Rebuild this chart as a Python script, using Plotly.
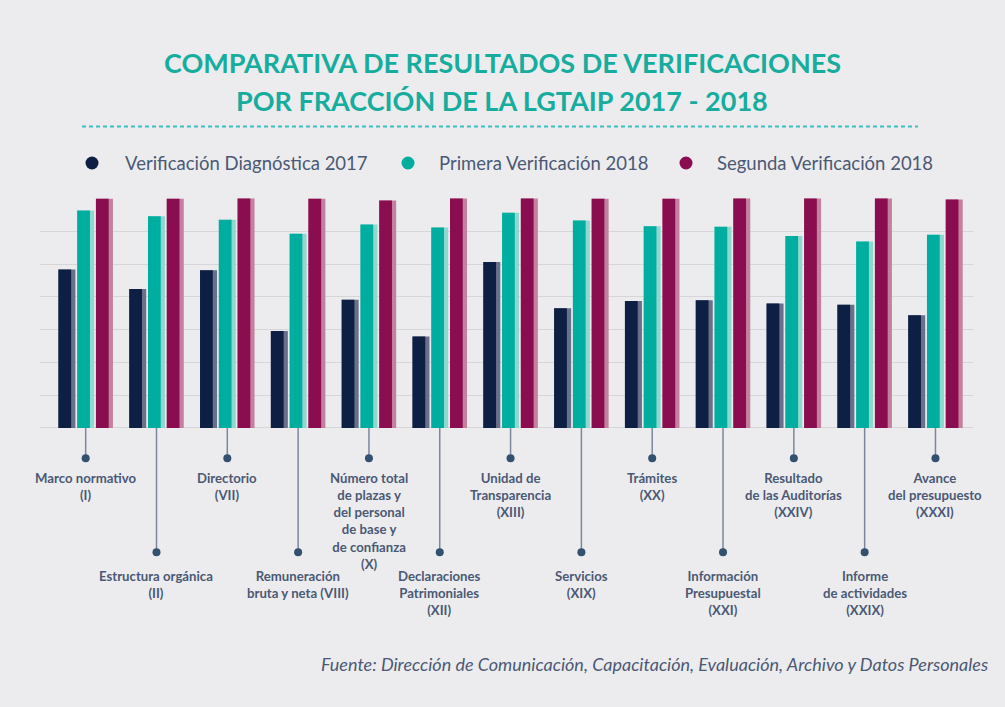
import plotly.graph_objects as go

# ---------------- data ----------------
categories = ["I", "II", "VII", "VIII", "X", "XII", "XIII", "XIX", "XX", "XXI", "XXIV", "XXIX", "XXXI"]
cat_labels = [
    "Marco normativo<br>(I)",
    "Estructura orgánica<br>(II)",
    "Directorio<br>(VII)",
    "Remuneración<br>bruta y neta (VIII)",
    "Número total<br>de plazas y<br>del personal<br>de base y<br>de confianza<br>(X)",
    "Declaraciones<br>Patrimoniales<br>(XII)",
    "Unidad de<br>Transparencia<br>(XIII)",
    "Servicios<br>(XIX)",
    "Trámites<br>(XX)",
    "Información<br>Presupuestal<br>(XXI)",
    "Resultado<br>de las Auditorías<br>(XXIV)",
    "Informe<br>de actividades<br>(XXIX)",
    "Avance<br>del presupuesto<br>(XXXI)",
]
series_names = ["Verificación Diagnóstica 2017", "Primera Verificación 2018", "Segunda Verificación 2018"]
diag_2017 = [69.0, 60.5, 68.7, 42.2, 55.9, 39.8, 72.3, 52.2, 55.3, 55.7, 54.2, 53.7, 49.1]
primera_2018 = [94.8, 92.3, 90.7, 84.6, 88.7, 87.4, 93.8, 90.4, 87.9, 87.7, 83.6, 81.3, 84.2]
segunda_2018 = [99.9, 99.9, 100.0, 99.9, 99.1, 100.0, 100.0, 99.9, 99.9, 100.0, 100.0, 100.0, 99.6]
series_values = [diag_2017, primera_2018, segunda_2018]

# ---------------- styling / layout ----------------
colors = ["#0d1f42", "#00ae9f", "#8a0d4f"]
light_colors = ["#6a6f8c", "#8fd8d0", "#c4809f"]
offsets = [-0.385, -0.12, 0.145]
full_w, main_w = 0.24, 0.18
bg = "#ececee"
text_col = "#4b5975"

W, H = 1005, 707
L, R = 40, 973          # plot area px (horizontal)
T, B = 186.5, 687       # plot area px (vertical)
Y0 = 427.7              # baseline px
YTOP = 105.0
scale = (Y0 - T) / YTOP
YMIN = -(B - Y0) / scale


def px2py(py):
    """pixel y -> data y"""
    return (Y0 - py) / scale


def pxx(px):
    return (px - L) / (R - L)


def pyy(py):
    return (B - py) / (B - T)


fig = go.Figure()

# bars: light stripe under, main colour over
for vals, c, lc, off, nm in zip(series_values, colors, light_colors, offsets, series_names):
    fig.add_trace(go.Bar(x=categories, y=vals, marker=dict(color=lc, line=dict(width=0)),
                         offset=off, width=full_w, showlegend=False, hoverinfo="skip"))
    fig.add_trace(go.Bar(x=categories, y=vals, name=nm, marker=dict(color=c, line=dict(width=0)),
                         offset=off, width=main_w, showlegend=False))

# stems + dots
short_end, long_end = px2py(458), px2py(552)
stem_x, stem_y, dot_x, dot_y = [], [], [], []
for i, c in enumerate(categories):
    end = short_end if i % 2 == 0 else long_end
    stem_x += [c, c, None]
    stem_y += [0, end, None]
    dot_x.append(c)
    dot_y.append(end)
fig.add_trace(go.Scatter(x=stem_x, y=stem_y, mode="lines", line=dict(color="#7c879c", width=1.5),
                         showlegend=False, hoverinfo="skip"))
fig.add_trace(go.Scatter(x=dot_x, y=dot_y, mode="markers", marker=dict(color="#33506f", size=8),
                         showlegend=False, hoverinfo="skip"))

annotations = []
for i, (c, lab) in enumerate(zip(categories, cat_labels)):
    top = 468 if i % 2 == 0 else 566
    annotations.append(dict(x=c, y=px2py(top), xref="x", yref="y", text=lab, showarrow=False,
                            yanchor="top", xanchor="center", align="center",
                            font=dict(family="Lato", size=13.2, color=text_col, weight="bold")))

# title
title_lines = ["COMPARATIVA DE RESULTADOS DE VERIFICACIONES", "POR FRACCIÓN DE LA LGTAIP 2017 - 2018"]
for line, yc in zip(title_lines, [62, 100]):
    annotations.append(dict(x=pxx(502), y=pyy(yc), xref="paper", yref="paper", text=line,
                            showarrow=False, xanchor="center", yanchor="middle",
                            font=dict(family="Lato", size=27, color="#17ad9e", weight="bold")))

# legend (manual)
legend_dot_x = [92, 408, 686]
legend_text_x = [123, 437, 715]
legend_y = 162.5
for nm, c, dx, tx in zip(series_names, colors, legend_dot_x, legend_text_x):
    annotations.append(dict(x=pxx(tx), y=pyy(legend_y), xref="paper", yref="paper", text=nm,
                            showarrow=False, xanchor="left", yanchor="middle",
                            font=dict(family="Lato", size=18.5, color=text_col)))

# footer
annotations.append(dict(x=pxx(990), y=pyy(664), xref="paper", yref="paper",
                        text="Fuente: Dirección de Comunicación, Capacitación, Evaluación, Archivo y Datos Personales",
                        showarrow=False, xanchor="right", yanchor="middle",
                        font=dict(family="Lato", size=18, color=text_col, style="italic")))

shapes = []
for c, dx in zip(colors, legend_dot_x):
    shapes.append(dict(type="circle", xref="paper", yref="paper", xsizemode="pixel", ysizemode="pixel",
                       xanchor=pxx(dx), yanchor=pyy(legend_y), x0=-6.5, x1=6.5, y0=-6.5, y1=6.5,
                       fillcolor=c, line=dict(width=0)))
# dotted separator
shapes.append(dict(type="line", xref="paper", yref="paper", x0=pxx(82), x1=pxx(918), y0=pyy(126), y1=pyy(126),
                   line=dict(color="#3bbfbf", width=2, dash="4px,3px")))

grid_vals = [k * 100 / 7 for k in range(0, 7)]

fig.update_layout(
    width=W, height=H, autosize=False,
    margin=dict(l=L, r=W - R, t=T, b=H - B, pad=0),
    paper_bgcolor=bg, plot_bgcolor=bg,
    barmode="overlay",
    xaxis=dict(range=[-0.645, 12.53], showticklabels=False, showgrid=False, zeroline=False,
               showline=False, ticks="", fixedrange=True),
    yaxis=dict(range=[YMIN, YTOP], tickvals=grid_vals, showticklabels=False, gridcolor="#d6d6d9",
               gridwidth=1, zeroline=False, showline=False, ticks="", fixedrange=True),
    annotations=annotations,
    shapes=shapes,
    showlegend=False,
)

fig.write_html("out.html", config={"displayModeBar": False},
               post_script="document.body.style.margin='0';document.body.style.background='" + bg + "';")
